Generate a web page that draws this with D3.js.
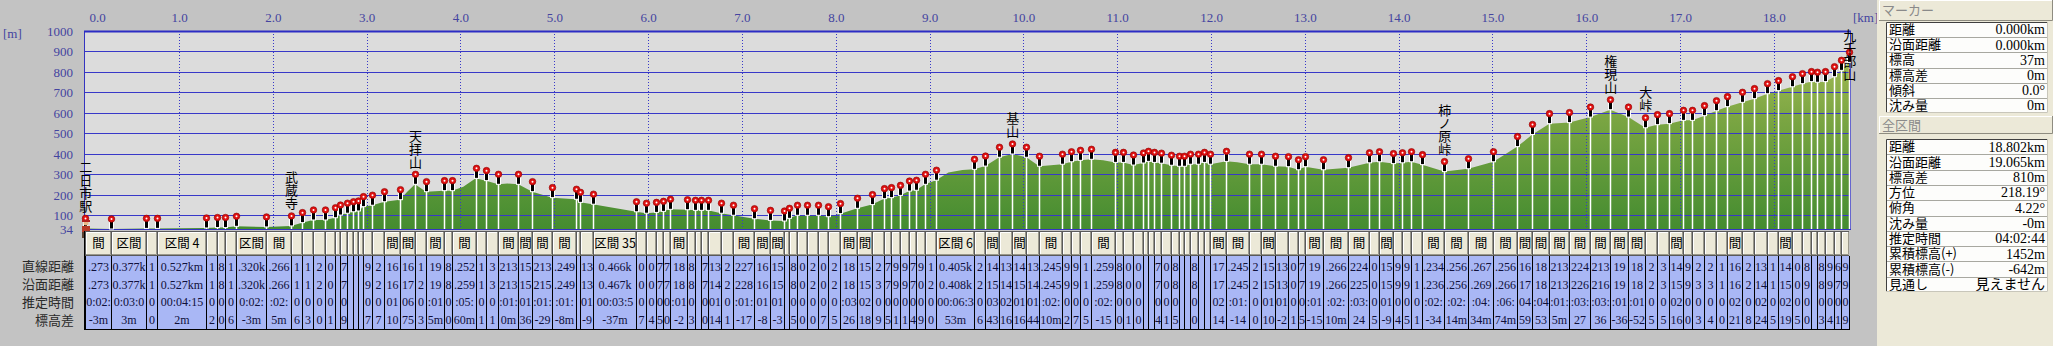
<!DOCTYPE html>
<html>
<head>
<meta charset="utf-8">
<script src="https://cdn.jsdelivr.net/npm/d3@7"></script>
<style>
body { margin: 0; background: #c3c3c3; overflow: hidden; }
</style>
</head>
<body>
<div class="chart"></div>
<script>
// marker positions [km] and heights [m]
let markerKm = [
  0, 0.273, 0.650, 0.765, 1.292, 1.405, 1.490, 1.607, 1.927, 2.193,
  2.311, 2.428, 2.556, 2.662, 2.716, 2.790, 2.854, 2.913, 2.964, 3.060,
  3.188, 3.355, 3.515, 3.633, 3.824, 3.910, 4.162, 4.272, 4.403, 4.616,
  4.766, 4.979, 5.228, 5.274, 5.409, 5.875, 5.977, 6.084, 6.158, 6.233,
  6.414, 6.503, 6.564, 6.638, 6.777, 6.905, 7.132, 7.299, 7.452, 7.502,
  7.587, 7.694, 7.814, 7.921, 8.049, 8.230, 8.386, 8.514, 8.589, 8.685,
  8.781, 8.855, 8.951, 9.069, 9.474, 9.594, 9.743, 9.882, 10.031, 10.170,
  10.415, 10.511, 10.607, 10.721, 10.980, 11.065, 11.172, 11.275, 11.329, 11.395,
  11.470, 11.577, 11.659, 11.715, 11.779, 11.861, 11.922, 11.992, 12.163, 12.408,
  12.533, 12.685, 12.824, 12.930, 13.005, 13.197, 13.463, 13.687, 13.793, 13.943,
  14.038, 14.134, 14.252, 14.486, 14.742, 15.009, 15.265, 15.425, 15.606, 15.819,
  16.043, 16.256, 16.448, 16.629, 16.754, 16.885, 17.034, 17.130, 17.258, 17.386,
  17.503, 17.663, 17.791, 17.930, 18.047, 18.196, 18.303, 18.392, 18.463, 18.548,
  18.644, 18.712, 18.802
];
let markerElev = [
  37, 34, 37, 37, 39, 41, 41, 47, 44, 49,
  65, 78, 78, 89, 102, 111, 118, 122, 143, 150,
  167, 177, 252, 216, 221, 221, 281, 270, 252, 252,
  216, 187, 179, 164, 155, 118, 111, 115, 120, 130,
  128, 125, 125, 125, 111, 101, 84, 76, 73, 86,
  101, 101, 101, 94, 109, 135, 153, 182, 187, 198,
  219, 223, 252, 272, 325, 341, 384, 400, 384, 340,
  350, 362, 369, 374, 359, 359, 346, 356, 364, 359,
  355, 345, 340, 340, 350, 350, 359, 350, 364, 350,
  350, 340, 338, 323, 338, 323, 333, 357, 362, 353,
  357, 362, 348, 314, 328, 362, 436, 495, 548, 553,
  580, 616, 580, 528, 543, 548, 564, 564, 587, 611,
  631, 652, 670, 694, 709, 728, 743, 753, 750, 753,
  777, 808, 847
];
// extra profile points between markers
let extraKm = [3.43, 4.03, 4.50, 9.20, 9.35, 10.85, 12.28, 15.14];
let extraElev = [215, 240, 256, 310, 322, 370, 360, 400];

let placeIndex = [0, 9, 22, 67, 103, 111, 113, 132];
let placeName = ["二日市駅", "武蔵寺", "天拝山", "基山", "柿ノ原峠", "権現山", "大峠", "九千部山"];

let xTickValues = [0, 1, 2, 3, 4, 5, 6, 7, 8, 9, 10, 11, 12, 13, 14, 15, 16, 17, 18];
let xTickLabels = ["0.0", "1.0", "2.0", "3.0", "4.0", "5.0", "6.0", "7.0", "8.0", "9.0",
  "10.0", "11.0", "12.0", "13.0", "14.0", "15.0", "16.0", "17.0", "18.0"];
let yTicks = [34, 100, 200, 300, 400, 500, 600, 700, 800, 900, 1000];
let yGrid = [100, 200, 300, 400, 500, 600, 700, 800, 900];

let rowLabels = ["直線距離", "沿面距離", "推定時間", "標高差"];

let markerInfoLabels = ["距離", "沿面距離", "標高", "標高差", "傾斜", "沈み量"];
let markerInfoValues = ["0.000km", "0.000km", "37m", "0m", "0.0°", "0m"];
let totalLabels = ["距離", "沿面距離", "標高差", "方位", "俯角", "沈み量", "推定時間", "累積標高(+)", "累積標高(-)", "見通し"];
let totalValues = ["18.802km", "19.065km", "810m", "218.19°", "4.22°", "-0m", "04:02:44", "1452m", "-642m", "見えません"];

let width = 2053;
let height = 346;
let plotTop = 31, plotBottom = 229, plotLeft = 84, plotRight = 1851;
let serif = "'Liberation Serif', serif";
let gothic = "'Noto Sans CJK JP', sans-serif";
let axisBlue = "#4444a0";

let svg = d3.select(".chart")
  .append("svg")
  .attr("width", width)
  .attr("height", height);

svg.append("rect").attr("width", width).attr("height", height).attr("fill", "#c3c3c3");

let x = d3.scaleLinear().domain([0, 18.802]).range([85.2, 1849.2]);
let y = d3.scaleLinear().domain([34, 1000]).range([plotBottom, plotTop]);

let defs = svg.append("defs");
let grad = defs.append("linearGradient")
  .attr("id", "hill")
  .attr("gradientUnits", "userSpaceOnUse")
  .attr("x1", 0).attr("x2", 0)
  .attr("y1", plotTop).attr("y2", plotBottom);
grad.append("stop").attr("offset", 0).attr("stop-color", "#b0c25a");
grad.append("stop").attr("offset", 0.45).attr("stop-color", "#7aa542");
grad.append("stop").attr("offset", 1).attr("stop-color", "#448c30");

// plot background
svg.append("rect")
  .attr("x", plotLeft).attr("y", plotTop)
  .attr("width", plotRight - plotLeft).attr("height", plotBottom - plotTop)
  .attr("fill", "#dcdcdc");

// profile
let profile = markerKm.map((k, i) => ({ km: k, e: markerElev[i] }))
  .concat(extraKm.map((k, i) => ({ km: k, e: extraElev[i] })))
  .sort((a, b) => a.km - b.km);

let area = d3.area()
  .x(d => x(d.km))
  .y0(plotBottom)
  .y1(d => y(d.e));

svg.append("path")
  .datum(profile)
  .attr("d", area)
  .attr("fill", "url(#hill)");

// grid
svg.append("g")
  .selectAll("line")
  .data(yGrid)
  .enter()
  .append("line")
  .attr("x1", plotLeft).attr("x2", plotRight)
  .attr("y1", d => Math.round(y(d)) + 0.5).attr("y2", d => Math.round(y(d)) + 0.5)
  .attr("stroke", "#3838c8");

svg.append("g")
  .selectAll("line")
  .data(xTickValues.slice(1))
  .enter()
  .append("line")
  .attr("x1", d => Math.round(x(d)) + 0.5).attr("x2", d => Math.round(x(d)) + 0.5)
  .attr("y1", plotTop).attr("y2", plotBottom)
  .attr("stroke", "#3838c8")
  .attr("stroke-dasharray", "1,2");

// frame
svg.append("rect")
  .attr("x", plotLeft + 0.5).attr("y", plotTop + 0.5)
  .attr("width", plotRight - plotLeft - 1).attr("height", plotBottom - plotTop)
  .attr("fill", "none")
  .attr("stroke", "#3434c0");
svg.append("line")
  .attr("x1", plotLeft).attr("x2", plotRight)
  .attr("y1", plotTop + 0.5).attr("y2", plotTop + 0.5)
  .attr("stroke", "#2c2cc4").attr("stroke-width", 2);

// axes
let xAxis = svg.append("g")
  .attr("transform", "translate(0,22)")
  .call(d3.axisTop(x).tickValues(xTickValues).tickFormat((d, i) => xTickLabels[i]).tickSize(0).tickPadding(0));
xAxis.select(".domain").remove();
xAxis.selectAll("text")
  .attr("font-family", serif).attr("font-size", 13).attr("fill", axisBlue);
xAxis.select(".tick text").attr("dx", 12);

let yAxis = svg.append("g")
  .attr("transform", "translate(73,0)")
  .call(d3.axisLeft(y).tickValues(yTicks).tickFormat(d => String(d)).tickSize(0).tickPadding(0));
yAxis.select(".domain").remove();
yAxis.selectAll("text")
  .attr("font-family", serif).attr("font-size", 13).attr("fill", axisBlue);

svg.append("text").attr("x", 3).attr("y", 38).text("[m]")
  .attr("font-family", serif).attr("font-size", 13).attr("fill", axisBlue);
svg.append("text").attr("x", 1853).attr("y", 22).text("[km]")
  .attr("font-family", serif).attr("font-size", 13).attr("fill", axisBlue);

// markers
let markers = markerKm.map((k, i) => ({ km: k, e: markerElev[i], i: i }));
let pins = svg.append("g")
  .selectAll("g")
  .data(markers)
  .enter()
  .append("g")
  .attr("transform", d => "translate(" + Math.round(x(d.km)) + "," + (y(d.e) - 10) + ")");
pins.append("line")
  .attr("x1", 0.5).attr("x2", 0.5)
  .attr("y1", 0).attr("y2", d => plotBottom - (y(d.e) - 10))
  .attr("stroke", "#ffffff").attr("stroke-width", 1.5);
pins.append("rect")
  .attr("x", -1.5).attr("y", 1).attr("width", 4).attr("height", 9)
  .attr("fill", "#000").attr("stroke", "#fff").attr("stroke-width", 1);
pins.append("circle")
  .attr("cx", 0.5).attr("cy", 0).attr("r", 3.3)
  .attr("fill", "#e01010").attr("stroke", "#8a0000").attr("stroke-width", 0.6);
pins.append("circle")
  .attr("cx", 0.5).attr("cy", 0).attr("r", 1)
  .attr("fill", "#ffffff");

// hiker at start
let hiker = svg.append("g").attr("transform", "translate(" + Math.round(x(0)) + ",0)");
hiker.append("circle").attr("cx", 1).attr("cy", 223).attr("r", 2.5).attr("fill", "#e8b888");
hiker.append("rect").attr("x", -3).attr("y", 220).attr("width", 8).attr("height", 2).attr("fill", "#b02020");
hiker.append("rect").attr("x", -3).attr("y", 226).attr("width", 8).attr("height", 6).attr("fill", "#b83a28");
hiker.append("rect").attr("x", -3).attr("y", 232).attr("width", 3).attr("height", 6).attr("fill", "#5a4030");
hiker.append("rect").attr("x", 2).attr("y", 232).attr("width", 3).attr("height", 6).attr("fill", "#5a4030");

// place names, written top to bottom above their marker
placeIndex.forEach(function(mi, p) {
  let n = Array.from(placeName[p]).length;
  let px = x(markerKm[mi]);
  let head = y(markerElev[mi]) - 10;
  let step = 13;
  let top = head - 6 - step * n;
  if (top < 29) top = 29;
  svg.append("text")
    .attr("x", px + 0.5)
    .attr("y", top)
    .attr("writing-mode", "vertical-rl")
    .attr("font-family", gothic)
    .attr("font-size", 13)
    .attr("fill", "#000")
    .text(placeName[p]);
});

// table of sections
let rowY = [266.5, 284.3, 302.1, 320];
let tableTop = 231, headBottom = 256, tableBottom = 329;
let lastX = Math.round(x(markerKm[markerKm.length - 1]));

svg.append("rect")
  .attr("x", plotLeft).attr("y", tableTop)
  .attr("width", lastX - plotLeft).attr("height", headBottom - tableTop)
  .attr("fill", "#5a5a5a");
svg.append("rect")
  .attr("x", plotLeft).attr("y", headBottom)
  .attr("width", lastX - plotLeft).attr("height", tableBottom - headBottom)
  .attr("fill", "#a9b7f5");

let fmtTime = d3.utcFormat("%H:%M:%S");
let segs = d3.range(markerKm.length - 1).map(function(i) {
  let d = (markerKm[i + 1] - markerKm[i]) * 1000;
  let dh = markerElev[i + 1] - markerElev[i];
  let sec = d * 0.47 + (dh > 0 ? dh * 3.8 : -dh * 0.3);
  return {
    i: i,
    x0: Math.round(x(markerKm[i])),
    x1: Math.round(x(markerKm[i + 1])),
    texts: [
      "区間 " + (i + 1),
      (d / 1000).toFixed(3) + "km",
      (Math.sqrt(d * d + dh * dh) / 1000).toFixed(3) + "km",
      fmtTime(new Date(Math.round(sec) * 1000)),
      dh + "m"
    ]
  };
});

segs.forEach(function(s) {
  defs.append("clipPath").attr("id", "c" + s.i)
    .append("rect")
    .attr("x", s.x0 + 1).attr("y", tableTop)
    .attr("width", Math.max(0, s.x1 - s.x0 - 1)).attr("height", tableBottom - tableTop);
});

let cells = svg.append("g")
  .selectAll("g")
  .data(segs)
  .enter()
  .append("g")
  .attr("clip-path", d => "url(#c" + d.i + ")");

cells.append("rect")
  .attr("x", d => d.x0 + 1).attr("y", tableTop + 1)
  .attr("width", d => Math.max(0, d.x1 - d.x0 - 1)).attr("height", headBottom - tableTop - 2)
  .attr("fill", "#ece9d8");
cells.append("path")
  .attr("d", d => "M" + (d.x0 + 1.5) + "," + (headBottom - 1) + "V" + (tableTop + 1.5) + "H" + (d.x1 - 1))
  .attr("fill", "none").attr("stroke", "#ffffff");
cells.append("path")
  .attr("d", d => "M" + (d.x0 + 1) + "," + (headBottom - 1.5) + "H" + (d.x1 - 0.5) + "V" + (tableTop + 1))
  .attr("fill", "none").attr("stroke", "#9a988c");

// cell texts are centred and cut down to what fits in the column
// (header keeps its "間" longest, like the clipped original)
function fitText(sel, r) {
  sel.each(function(d) {
    let node = this;
    let room = d.x1 - d.x0 - 1;
    let str = d.texts[r];
    node.textContent = str;
    let cut = 0;
    while (str.length > 0 && node.getComputedTextLength() > room) {
      if (r === 0) {
        str = str.length > 2 ? str.slice(0, -1) : str.slice(1);
      } else {
        str = (cut % 2 === 0) ? str.slice(0, -1) : str.slice(1);
      }
      str = str.trim();
      cut++;
      node.textContent = str;
    }
  });
}

[244].concat(rowY).forEach(function(ry, r) {
  cells.append("text")
    .attr("x", d => (d.x0 + d.x1) / 2 + 0.5)
    .attr("y", ry)
    .attr("dy", "0.35em")
    .attr("text-anchor", "middle")
    .attr("font-family", r === 0 ? gothic : serif)
    .attr("font-size", r === 0 ? 12.5 : 12)
    .attr("fill", r === 0 ? "#000" : "#10103a")
    .call(fitText, r);
});

svg.append("g")
  .selectAll("line")
  .data(markerKm)
  .enter()
  .append("line")
  .attr("x1", d => Math.round(x(d)) + 0.5).attr("x2", d => Math.round(x(d)) + 0.5)
  .attr("y1", headBottom).attr("y2", tableBottom)
  .attr("stroke", "#000");
svg.append("line")
  .attr("x1", plotLeft).attr("x2", lastX + 1)
  .attr("y1", tableBottom + 0.5).attr("y2", tableBottom + 0.5)
  .attr("stroke", "#000");
svg.append("line")
  .attr("x1", plotLeft + 0.5).attr("x2", plotLeft + 0.5)
  .attr("y1", tableTop).attr("y2", tableBottom)
  .attr("stroke", "#000");

svg.append("g")
  .selectAll("text")
  .data(rowLabels)
  .enter()
  .append("text")
  .attr("x", 74)
  .attr("y", (d, i) => rowY[i])
  .attr("dy", "0.35em")
  .attr("text-anchor", "end")
  .attr("font-family", gothic)
  .attr("font-size", 13)
  .attr("fill", "#2a2a2a")
  .text(d => d);

// right panel
let panelX = 1877;
svg.append("rect")
  .attr("x", panelX).attr("y", 0)
  .attr("width", width - panelX).attr("height", height)
  .attr("fill", "#ece9d8");

function headerBar(y0, y1, label) {
  svg.append("rect")
    .attr("x", panelX + 2).attr("y", y0)
    .attr("width", width - panelX - 2).attr("height", y1 - y0)
    .attr("fill", "#ece9d8");
  svg.append("path")
    .attr("d", "M" + (panelX + 2.5) + "," + y1 + "V" + (y0 + 0.5) + "H" + width)
    .attr("fill", "none").attr("stroke", "#ffffff");
  svg.append("path")
    .attr("d", "M" + (panelX + 2) + "," + (y1 - 0.5) + "H" + (width - 0.5) + "V" + y0)
    .attr("fill", "none").attr("stroke", "#8e8c80");
  svg.append("text")
    .attr("x", panelX + 5).attr("y", (y0 + y1) / 2)
    .attr("dy", "0.35em")
    .attr("font-family", gothic).attr("font-size", 13)
    .attr("fill", "#8a8a8a")
    .text(label);
}

function infoBox(y0, y1, labels, values) {
  let bx0 = 1886, bx1 = 2048;
  let rh = (y1 - y0) / labels.length;
  svg.append("rect")
    .attr("x", bx0).attr("y", y0)
    .attr("width", bx1 - bx0).attr("height", y1 - y0)
    .attr("fill", "#fdfdfb");
  labels.forEach(function(l, i) {
    let ry = y0 + i * rh;
    if (i > 0) {
      svg.append("line")
        .attr("x1", bx0).attr("x2", bx1)
        .attr("y1", Math.round(ry) + 0.5).attr("y2", Math.round(ry) + 0.5)
        .attr("stroke", "#a8a8a0");
    }
    svg.append("text")
      .attr("x", bx0 + 3).attr("y", ry + rh / 2)
      .attr("dy", "0.35em")
      .attr("font-family", gothic).attr("font-size", 13)
      .attr("fill", "#000")
      .text(l);
    svg.append("text")
      .attr("x", bx1 - 3).attr("y", ry + rh / 2)
      .attr("dy", "0.35em")
      .attr("text-anchor", "end")
      .attr("font-family", /[ぁ-ん]/.test(values[i]) ? gothic : serif)
      .attr("font-size", 14)
      .attr("fill", "#000")
      .text(values[i]);
  });
  svg.append("path")
    .attr("d", "M" + (bx0 + 0.5) + "," + y1 + "V" + (y0 + 0.5) + "H" + bx1)
    .attr("fill", "none").attr("stroke", "#404040");
  svg.append("path")
    .attr("d", "M" + bx0 + "," + (y1 - 0.5) + "H" + (bx1 - 0.5) + "V" + y0)
    .attr("fill", "none").attr("stroke", "#c8c6ba");
}

headerBar(0, 21, "マーカー");
infoBox(22, 113, markerInfoLabels, markerInfoValues);
headerBar(116, 134, "全区間");
infoBox(139, 292, totalLabels, totalValues);
</script>
</body>
</html>
